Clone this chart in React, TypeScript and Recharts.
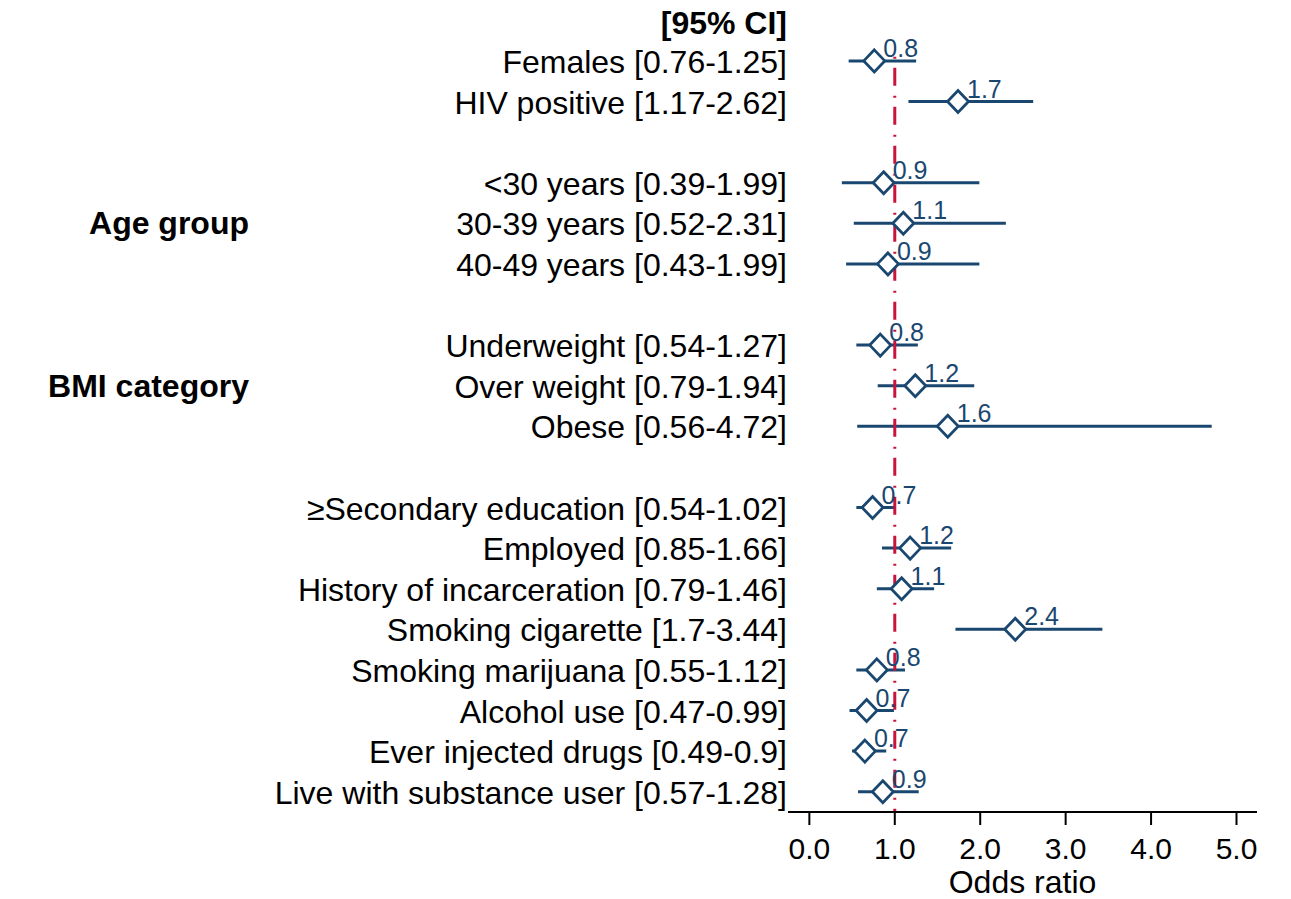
import React from 'react';
import { ComposedChart, Scatter, XAxis, YAxis, ErrorBar, ReferenceLine, Label } from 'recharts';

const NAVY = '#1a476f';
const RED = '#c8143c';
const FONT = '"Liberation Sans", Arial, Helvetica, sans-serif';

// Row index (top = 0) for every label on the left side
const labelRows = [0, 1, 2, 4, 5, 6, 8, 9, 10, 12, 13, 14, 15, 16, 17, 18, 19];
const labelTexts = [
  '[95% CI]',
  'Females [0.76-1.25]',
  'HIV positive [1.17-2.62]',
  '<30 years [0.39-1.99]',
  '30-39 years [0.52-2.31]',
  '40-49 years [0.43-1.99]',
  'Underweight [0.54-1.27]',
  'Over weight [0.79-1.94]',
  'Obese [0.56-4.72]',
  '≥Secondary education [0.54-1.02]',
  'Employed [0.85-1.66]',
  'History of incarceration [0.79-1.46]',
  'Smoking cigarette [1.7-3.44]',
  'Smoking marijuana [0.55-1.12]',
  'Alcohol use [0.47-0.99]',
  'Ever injected drugs [0.49-0.9]',
  'Live with substance user [0.57-1.28]',
];

const groupRows = [5, 9];
const groupNames = ['Age group', 'BMI category'];

// Estimates
const estRows = [1, 2, 4, 5, 6, 8, 9, 10, 12, 13, 14, 15, 16, 17, 18, 19];
const oddsRatio = [0.76, 1.74, 0.87, 1.10, 0.92, 0.83, 1.24, 1.62, 0.74, 1.18, 1.08, 2.41, 0.79, 0.67, 0.65, 0.86];
const ciLower = [0.46, 1.16, 0.38, 0.52, 0.43, 0.55, 0.80, 0.56, 0.55, 0.85, 0.79, 1.71, 0.55, 0.47, 0.50, 0.57];
const ciUpper = [1.25, 2.62, 1.99, 2.30, 1.99, 1.27, 1.93, 4.71, 1.00, 1.66, 1.46, 3.43, 1.12, 0.99, 0.90, 1.28];
const orText = ['0.8', '1.7', '0.9', '1.1', '0.9', '0.8', '1.2', '1.6', '0.7', '1.2', '1.1', '2.4', '0.8', '0.7', '0.7', '0.9'];

const xTicks = [0, 1, 2, 3, 4, 5];

const data = estRows.map((row, i) => ({
  row,
  or: oddsRatio[i],
  err: [oddsRatio[i] - ciLower[i], ciUpper[i] - oddsRatio[i]],
  txt: orText[i],
}));

const YTick = (props: any) => {
  const { x, y, payload } = props;
  const v = payload.value;
  const idx = labelRows.indexOf(v);
  const gi = groupRows.indexOf(v);
  return (
    <g>
      {idx >= 0 && (
        <text
          x={x}
          y={y}
          dy={idx === 0 ? 14 : 12}
          textAnchor="end"
          fontFamily={FONT}
          fontSize={32}
          fontWeight={idx === 0 ? 'bold' : 'normal'}
          fill="#000"
        >
          {labelTexts[idx]}
        </text>
      )}
      {gi >= 0 && (
        <text x={249} y={y} dy={11} textAnchor="end" fontFamily={FONT} fontSize={32} fontWeight="bold" fill="#000">
          {groupNames[gi]}
        </text>
      )}
    </g>
  );
};

const XTick = (props: any) => {
  const { x, y, payload } = props;
  return (
    <text x={x} y={y} dy={32} textAnchor="middle" fontFamily={FONT} fontSize={30} fill="#000">
      {Number(payload.value).toFixed(1)}
    </text>
  );
};

const Diamond = (props: any) => {
  const { cx, cy, payload } = props;
  if (cx == null || cy == null) return null;
  return (
    <g>
      <path
        d={`M${cx},${cy - 11}L${cx + 10.5},${cy}L${cx},${cy + 11}L${cx - 10.5},${cy}Z`}
        fill="#fff"
        stroke={NAVY}
        strokeWidth={2.8}
      />
      <text x={cx + 9} y={cy - 4} fontFamily={FONT} fontSize={25} fill={NAVY}>
        {payload.txt}
      </text>
    </g>
  );
};

export default function App() {
  return (
    <div style={{ position: 'absolute', left: 0, top: 0, width: 1291, height: 899, background: '#fff' }}>
      <ComposedChart width={1291} height={899} data={data} margin={{ top: 0, right: 34, bottom: 0, left: 0 }}>
        <XAxis
          type="number"
          dataKey="or"
          domain={[-0.25, 5.24]}
          allowDataOverflow
          ticks={xTicks}
          height={87}
          tickSize={13}
          stroke="#000"
          strokeWidth={2}
          tick={<XTick />}
        >
          <Label
            content={(p: any) => {
              const vb = p.viewBox || {};
              return (
                <text x={vb.x + vb.width / 2} y={vb.y + 81} textAnchor="middle" fontFamily={FONT} fontSize={32} fill="#000">
                  Odds ratio
                </text>
              );
            }}
          />
        </XAxis>
        <YAxis
          type="number"
          dataKey="row"
          domain={[-0.5, 19.5]}
          allowDataOverflow
          reversed
          ticks={labelRows}
          interval={0}
          width={788}
          axisLine={false}
          tickLine={false}
          tickSize={0}
          tickMargin={1}
          tick={<YTick />}
        />
        <Scatter data={data} isAnimationActive={false} shape={<Diamond />}>
          <ErrorBar dataKey="err" direction="x" width={0} stroke={NAVY} strokeWidth={3} isAnimationActive={false} />
        </Scatter>
        <ReferenceLine
          segment={[{ x: 1, y: 0.9 }, { x: 1, y: 19.5 }]}
          stroke={RED}
          strokeWidth={3}
          strokeDasharray="2 9 18 10"
          ifOverflow="visible"
        />
      </ComposedChart>
    </div>
  );
}
